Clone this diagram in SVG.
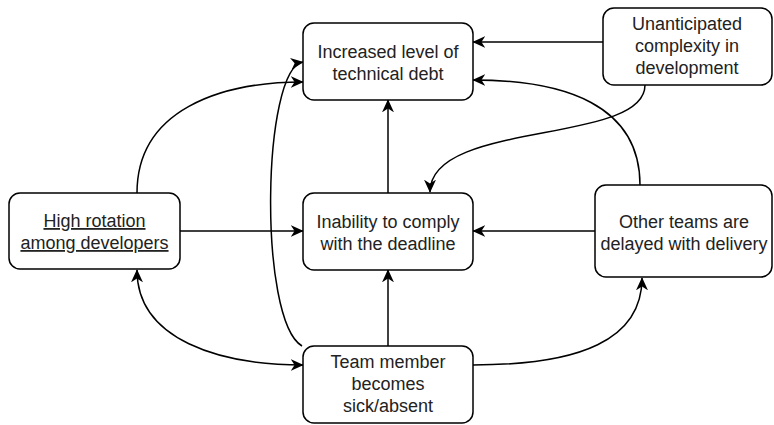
<svg xmlns="http://www.w3.org/2000/svg" width="774" height="425" viewBox="0 0 774 425">
<style>
.box{fill:#fff;stroke:#000;stroke-width:1.5}
.lbl{font-family:"Liberation Sans",Arial,sans-serif;font-size:18px;fill:#222;text-anchor:middle}
.edge{fill:none;stroke:#000;stroke-width:1.5}
</style>
<defs>
<marker id="arr" viewBox="0 0 10 10" refX="9.5" refY="5" markerWidth="13" markerHeight="12" markerUnits="userSpaceOnUse" orient="auto-start-reverse" preserveAspectRatio="none">
<path d="M0,0 L10,5 L0,10 L3,5 z" fill="#000"/>
</marker>
</defs>
<rect width="774" height="425" fill="#fff"/>
<g id="connectors">
<path class="edge" d="M603,42 L473,42" marker-end="url(#arr)"/>
<path class="edge" d="M640,185 C640,105 565,80 473,80" marker-end="url(#arr)"/>
<path class="edge" d="M645,85 C645,145 430,120 430,192" marker-end="url(#arr)"/>
<path class="edge" d="M388,193 L388,100" marker-end="url(#arr)"/>
<path class="edge" d="M137,193 C137,110 220,82 303,82" marker-end="url(#arr)"/>
<path class="edge" d="M302,346 C258,320 262,68 303,62" marker-end="url(#arr)"/>
<path class="edge" d="M180,231 L303,231" marker-end="url(#arr)"/>
<path class="edge" d="M595,231 L473,231" marker-end="url(#arr)"/>
<path class="edge" d="M388,346 L388,270" marker-end="url(#arr)"/>
<path class="edge" d="M137,270 C137,340 220,365 303,365" marker-start="url(#arr)" marker-end="url(#arr)"/>
<path class="edge" d="M473,365 C580,365 642,340 642,278" marker-end="url(#arr)"/>
</g>
<g id="techdebt">
<rect class="box" x="303" y="23" width="170" height="77" rx="11"/>
<text class="lbl" x="388" y="58">Increased level of</text>
<text class="lbl" x="388" y="80">technical debt</text>
</g>
<g id="complexity">
<rect class="box" x="603" y="8" width="169" height="77" rx="11"/>
<text class="lbl" x="687" y="30">Unanticipated</text>
<text class="lbl" x="687" y="52">complexity in</text>
<text class="lbl" x="687" y="74">development</text>
</g>
<g id="rotation">
<rect class="box" x="9" y="193" width="171" height="76" rx="11"/>
<text class="lbl" x="94.5" y="227" text-decoration="underline">High rotation</text>
<text class="lbl" x="94.5" y="249" text-decoration="underline">among developers</text>
</g>
<g id="deadline">
<rect class="box" x="303" y="193" width="170" height="77" rx="11"/>
<text class="lbl" x="388" y="228">Inability to comply</text>
<text class="lbl" x="388" y="250">with the deadline</text>
</g>
<g id="otherteams">
<rect class="box" x="595" y="185" width="177" height="92" rx="11"/>
<text class="lbl" x="684" y="228">Other teams are</text>
<text class="lbl" x="684" y="250">delayed with delivery</text>
</g>
<g id="sick">
<rect class="box" x="303" y="346" width="170" height="77" rx="11"/>
<text class="lbl" x="388" y="368">Team member</text>
<text class="lbl" x="388" y="390">becomes</text>
<text class="lbl" x="388" y="412">sick/absent</text>
</g>
</svg>
